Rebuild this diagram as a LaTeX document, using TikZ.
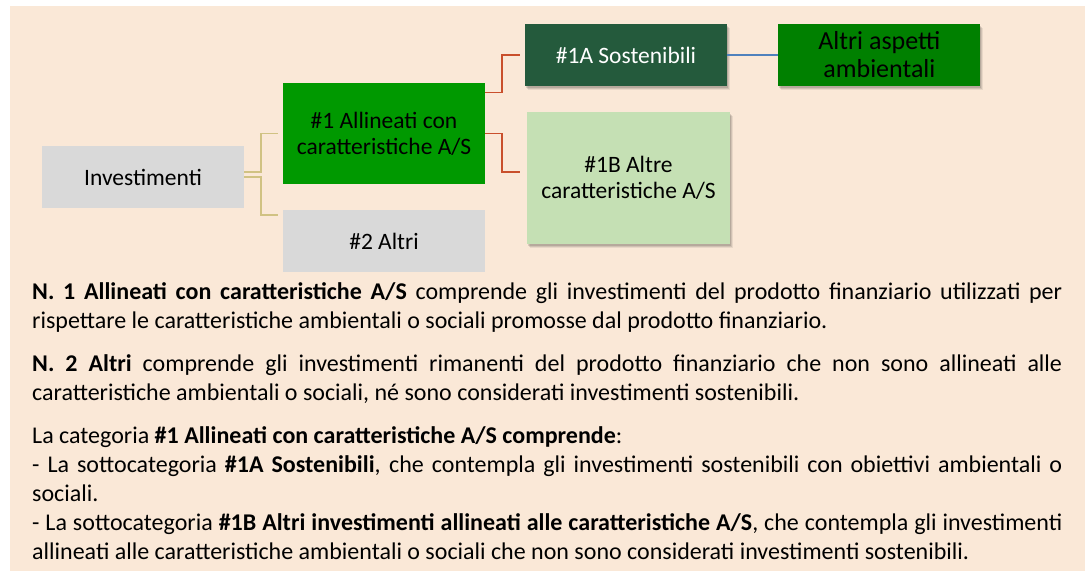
\documentclass[tikz,border=0pt]{standalone}
\usepackage{fontspec}
\setmainfont{Carlito}
\usetikzlibrary{positioning,calc,shadows}
\definecolor{bgpeach}{HTML}{FAE8D7}
\definecolor{boxgrey}{HTML}{D9D9D9}
\definecolor{esgreen}{HTML}{009900}
\definecolor{esdark}{HTML}{245A3C}
\definecolor{eslight}{HTML}{C5E0B4}
\definecolor{esmid}{HTML}{008000}
\definecolor{lntan}{HTML}{D0C283}
\definecolor{lnred}{HTML}{C94F2C}
\definecolor{lnblue}{HTML}{4F81BD}
\tikzset{
  boxb/.style={align=center, inner sep=3pt, minimum width=202pt,
    minimum height=62pt},
  boxshadow/.style={
    drop shadow={shadow xshift=1pt, shadow yshift=-1.5pt, opacity=0.12, fill=black},
    drop shadow={shadow xshift=2pt, shadow yshift=-2.5pt, opacity=0.10, fill=black},
    drop shadow={shadow xshift=3pt, shadow yshift=-3.5pt, opacity=0.07, fill=black}},
  greyb/.style={boxb, fill=boxgrey},
  mainb/.style={boxb, fill=esgreen, minimum height=101pt},
  sostb/.style={boxb, boxshadow, fill=esdark, text=white},
  ltb/.style={boxb, boxshadow, fill=eslight, minimum width=203pt,
    minimum height=132pt},
  ambb/.style={boxb, boxshadow, fill=esmid, font=\fontsize{26}{28}\selectfont},
  tanl/.style={draw=lntan, line width=1.8pt},
  redl/.style={draw=lnred, line width=1.8pt},
  bluel/.style={draw=lnblue, line width=1.8pt},
  bodyt/.style={text width=1030pt, align=justify, inner sep=0pt,
    anchor=north west, font=\fontsize{24}{29}\selectfont},
}

\begin{document}
\begin{tikzpicture}[x=1pt, y=1pt, font=\fontsize{23.5}{26}\selectfont]
  \useasboundingbox (0,0) rectangle (1088,-571);
  \fill[bgpeach] (10,-6) rectangle (1085,-571);

  \node[greyb] (inv) at (143,-177) {Investimenti};
  \node[mainb] (all1) at (384,-133.5) {\#1 Allineati con\\caratteristiche A/S};
  \node[greyb, below=26pt of all1] (altri2) {\#2 Altri};
  \node[sostb] (sost) at (626,-55) {\#1A Sostenibili};
  \node[ambb, right=51pt of sost] (amb) {Altri aspetti\\ambientali};
  \node[ltb] (alt1b) at (628.5,-178) {\#1B Altre\\caratteristiche A/S};

  % connettori
  \coordinate (all1in) at ($(all1.west)+(-5,0)$);
  \coordinate (altri2in) at ($(altri2.north west)+(-5,-5)$);
  \coordinate (sostin) at ($(sost.west)+(-5,0)$);
  \coordinate (alt1bin) at ($(alt1b.west)+(-7,6)$);
  \draw[tanl] ($(inv.east)+(0,5)$) -- ++(17,0) |- (all1in);
  \draw[tanl] (inv.east) -- ++(17,0) |- (altri2in);
  \draw[redl] ($(all1.east)+(0,41)$) -- ++(17,0) |- (sostin);
  \draw[redl] (all1.east) -- ++(17,0) |- (alt1bin);
  \draw[bluel] (sost.east) -- (amb.west);

  % testo
  \node[bodyt] (par1) at (32,-282)
    {\textbf{N. 1 Allineati con caratteristiche A/S} comprende gli investimenti
     del prodotto finanziario utilizzati per\linebreak rispettare le
     caratteristiche ambientali o sociali promosse dal prodotto finanziario.};
  \node[bodyt] (par2) at (32,-354)
    {\textbf{N. 2 Altri} comprende gli investimenti rimanenti del prodotto
     finanziario che non sono allineati alle\linebreak caratteristiche
     ambientali o sociali, né sono considerati investimenti sostenibili.};
  \node[bodyt] (par3) at (32,-426)
    {La categoria \textbf{\#1 Allineati con caratteristiche A/S comprende}:\\
     - La sottocategoria \textbf{\#1A Sostenibili}, che contempla gli
     investimenti sostenibili con obiettivi ambientali o\linebreak sociali.\\
     - La sottocategoria \textbf{\#1B Altri investimenti allineati alle
     caratteristiche A/S}, che contempla gli investimenti\linebreak allineati
     alle caratteristiche ambientali o sociali che non sono considerati
     investimenti sostenibili.};
\end{tikzpicture}
\end{document}
